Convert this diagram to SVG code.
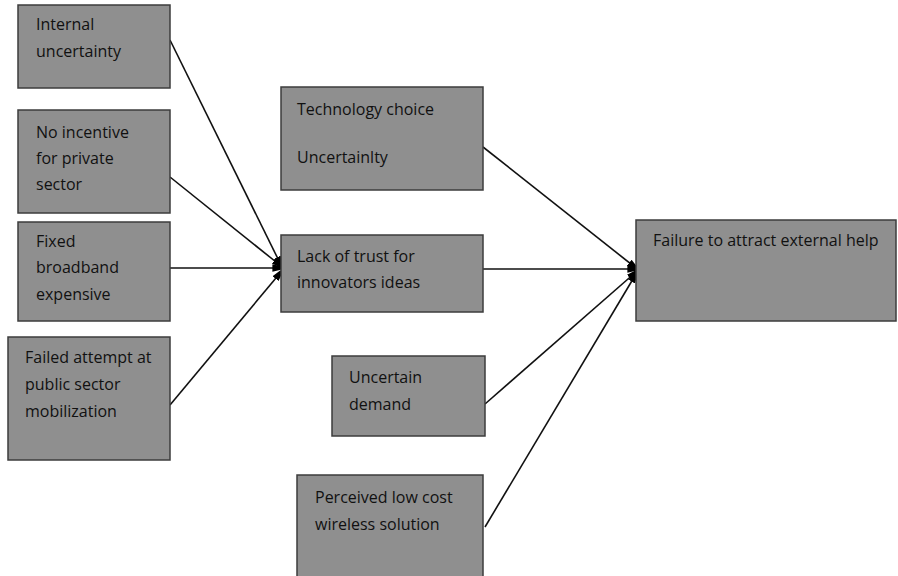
<svg xmlns="http://www.w3.org/2000/svg" width="898" height="576" viewBox="0 0 898 576">
<style>
.box{fill:#8f8f8f;stroke:#3c3c3c;stroke-width:1.5}
.t{font-family:"Open Sans","Noto Sans",sans-serif;font-size:16px;fill:#111}
.c{stroke:#111;stroke-width:1.6;fill:none;marker-end:url(#ah)}
</style>
<defs>
<marker id="ah" viewBox="0 0 10 10" refX="9" refY="5" markerWidth="6" markerHeight="6" orient="auto" markerUnits="strokeWidth">
<path d="M0,1 L10,3.5 L10,6.5 L0,9 Z" fill="#000"/>
</marker>
</defs>
<rect width="898" height="576" fill="#fff"/>
<g id="connectors">
<line class="c" x1="170" y1="40" x2="281" y2="265"/>
<line class="c" x1="170" y1="177" x2="281" y2="266"/>
<line class="c" x1="170" y1="268" x2="281" y2="268"/>
<line class="c" x1="170" y1="405" x2="281" y2="272"/>
<line class="c" x1="483" y1="147" x2="636" y2="268"/>
<line class="c" x1="483" y1="269" x2="636" y2="269"/>
<line class="c" x1="485" y1="404" x2="636" y2="272"/>
<line class="c" x1="485" y1="527" x2="636" y2="274"/>
</g>
<g id="n1"><rect class="box" x="18" y="5" width="152" height="83"/><text class="t" x="36" y="30">Internal</text><text class="t" x="36" y="57">uncertainty</text></g>
<g id="n2"><rect class="box" x="18" y="110" width="152" height="103"/><text class="t" x="36" y="138">No incentive</text><text class="t" x="36" y="164">for private</text><text class="t" x="36" y="190">sector</text></g>
<g id="n3"><rect class="box" x="18" y="222" width="152" height="99"/><text class="t" x="36" y="247">Fixed</text><text class="t" x="36" y="273">broadband</text><text class="t" x="36" y="300">expensive</text></g>
<g id="n4"><rect class="box" x="8" y="337" width="162" height="123"/><text class="t" x="25" y="363">Failed attempt at</text><text class="t" x="25" y="390">public sector</text><text class="t" x="25" y="417">mobilization</text></g>
<g id="n5"><rect class="box" x="281" y="87" width="202" height="103"/><text class="t" x="297" y="115">Technology choice</text><text class="t" x="297" y="163">Uncertainlty</text></g>
<g id="n6"><rect class="box" x="281" y="235" width="202" height="77"/><text class="t" x="297" y="262">Lack of trust for</text><text class="t" x="297" y="288">innovators ideas</text></g>
<g id="n7"><rect class="box" x="332" y="356" width="153" height="80"/><text class="t" x="349" y="383">Uncertain</text><text class="t" x="349" y="410">demand</text></g>
<g id="n8"><rect class="box" x="297" y="475" width="186" height="110"/><text class="t" x="315" y="503">Perceived low cost</text><text class="t" x="315" y="530">wireless solution</text></g>
<g id="n9"><rect class="box" x="636" y="220" width="260" height="101"/><text class="t" x="653" y="246">Failure to attract external help</text></g>
</svg>
